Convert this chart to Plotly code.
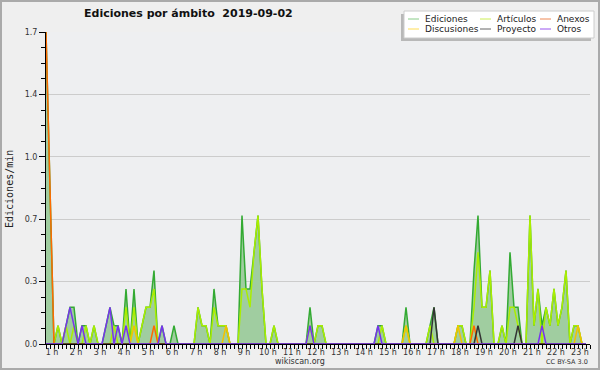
import plotly.graph_objects as go

# ---------------- data (10-minute bins, edits per minute) ----------------
bin_start_hour = 0.75
bin_hours = 1 / 6

ediciones = [
    1.7, 0.8, 0, 0.1, 0, 0.1, 0.2, 0.2, 0, 0.1, 0.1, 0,
    0.1, 0, 0, 0.1, 0.2, 0.1, 0.1, 0, 0.3, 0, 0.3, 0,
    0.1, 0.2, 0.2, 0.4, 0, 0.1, 0, 0, 0.1, 0, 0, 0,
    0, 0, 0.2, 0.1, 0.1, 0, 0.3, 0.1, 0.1, 0.1, 0, 0,
    0, 0.7, 0.3, 0.3, 0.5, 0.7, 0.3, 0, 0, 0.1, 0, 0,
    0, 0, 0, 0, 0, 0, 0.2, 0, 0.1, 0.1, 0, 0,
    0, 0, 0, 0, 0, 0, 0, 0, 0, 0, 0, 0.1,
    0.1, 0, 0, 0, 0, 0, 0.2, 0, 0, 0, 0, 0,
    0.1, 0.2, 0, 0, 0, 0, 0, 0.1, 0.1, 0, 0, 0.4,
    0.7, 0.2, 0.2, 0.4, 0, 0, 0.1, 0, 0.5, 0.2, 0.2, 0,
    0, 0.7, 0.1, 0.3, 0.1, 0.2, 0.1, 0.3, 0.1, 0.2, 0.4, 0,
    0.1, 0.1, 0, 0,
]
articulos = [
    0, 0, 0, 0.1, 0, 0.1, 0, 0.1, 0, 0, 0.1, 0,
    0.1, 0, 0, 0, 0, 0.1, 0, 0, 0.2, 0, 0.2, 0,
    0.1, 0.2, 0.2, 0.3, 0, 0, 0, 0, 0, 0, 0, 0,
    0, 0, 0.2, 0.1, 0.1, 0, 0.2, 0.1, 0.1, 0.1, 0, 0,
    0, 0.3, 0.3, 0.2, 0.5, 0.7, 0.3, 0, 0, 0.1, 0, 0,
    0, 0, 0, 0, 0, 0, 0.1, 0, 0.1, 0.1, 0, 0,
    0, 0, 0, 0, 0, 0, 0, 0, 0, 0, 0, 0,
    0.1, 0, 0, 0, 0, 0, 0.1, 0, 0, 0, 0, 0,
    0.1, 0, 0, 0, 0, 0, 0, 0.1, 0.1, 0, 0, 0.2,
    0.5, 0.2, 0.2, 0.4, 0, 0, 0.1, 0, 0.2, 0.2, 0.1, 0,
    0, 0.7, 0.1, 0.3, 0, 0.2, 0.1, 0.3, 0.1, 0.2, 0.4, 0,
    0.1, 0.1, 0, 0,
]
anexos = [
    1.7, 0.8, 0, 0, 0, 0, 0, 0, 0, 0, 0, 0,
    0, 0, 0, 0, 0, 0, 0, 0, 0, 0, 0, 0,
    0, 0, 0, 0.1, 0, 0, 0, 0, 0, 0, 0, 0,
    0, 0, 0, 0, 0, 0, 0, 0, 0, 0, 0, 0,
    0, 0, 0, 0, 0, 0, 0, 0, 0, 0, 0, 0,
    0, 0, 0, 0, 0, 0, 0, 0, 0, 0, 0, 0,
    0, 0, 0, 0, 0, 0, 0, 0, 0, 0, 0, 0,
    0, 0, 0, 0, 0, 0, 0, 0, 0, 0, 0, 0,
    0, 0, 0, 0, 0, 0, 0, 0, 0, 0, 0, 0.1,
    0, 0, 0, 0, 0, 0, 0, 0, 0, 0, 0, 0,
    0, 0, 0, 0, 0, 0, 0, 0, 0, 0, 0, 0,
    0, 0, 0, 0,
]
discusiones = [
    0, 0, 0, 0, 0, 0, 0, 0, 0, 0, 0, 0,
    0, 0, 0, 0, 0, 0, 0, 0, 0, 0, 0.1, 0,
    0, 0, 0, 0, 0, 0, 0, 0, 0, 0, 0, 0,
    0, 0, 0, 0, 0, 0, 0, 0, 0, 0.1, 0, 0,
    0, 0, 0, 0, 0, 0, 0, 0, 0, 0, 0, 0,
    0, 0, 0, 0, 0, 0, 0, 0, 0, 0, 0, 0,
    0, 0, 0, 0, 0, 0, 0, 0, 0, 0, 0, 0,
    0, 0, 0, 0, 0, 0, 0.1, 0, 0, 0, 0, 0,
    0, 0, 0, 0, 0, 0, 0, 0.1, 0, 0, 0, 0,
    0, 0, 0, 0, 0, 0, 0, 0, 0, 0, 0, 0,
    0, 0, 0, 0, 0, 0, 0, 0, 0, 0, 0, 0,
    0, 0.1, 0, 0,
]
proyecto = [
    0, 0, 0, 0, 0, 0, 0, 0, 0, 0, 0, 0,
    0, 0, 0, 0, 0, 0, 0, 0, 0, 0, 0, 0,
    0, 0, 0, 0, 0, 0, 0, 0, 0, 0, 0, 0,
    0, 0, 0, 0, 0, 0, 0, 0, 0, 0, 0, 0,
    0, 0, 0, 0, 0, 0, 0, 0, 0, 0, 0, 0,
    0, 0, 0, 0, 0, 0, 0, 0, 0, 0, 0, 0,
    0, 0, 0, 0, 0, 0, 0, 0, 0, 0, 0, 0,
    0, 0, 0, 0, 0, 0, 0, 0, 0, 0, 0, 0,
    0, 0.2, 0, 0, 0, 0, 0, 0, 0, 0, 0, 0,
    0.1, 0, 0, 0, 0, 0, 0, 0, 0, 0, 0.1, 0,
    0, 0, 0, 0, 0, 0, 0, 0, 0, 0, 0, 0,
    0, 0, 0, 0,
]
otros = [
    0, 0, 0, 0, 0, 0.1, 0.2, 0.1, 0, 0.1, 0, 0,
    0, 0, 0, 0.1, 0.2, 0, 0.1, 0, 0.1, 0, 0, 0,
    0, 0, 0, 0, 0, 0.1, 0, 0, 0, 0, 0, 0,
    0, 0, 0, 0, 0, 0, 0, 0, 0, 0, 0, 0,
    0, 0, 0, 0, 0, 0, 0, 0, 0, 0, 0, 0,
    0, 0, 0, 0, 0, 0, 0.1, 0, 0, 0, 0, 0,
    0, 0, 0, 0, 0, 0, 0, 0, 0, 0, 0, 0.1,
    0, 0, 0, 0, 0, 0, 0, 0, 0, 0, 0, 0,
    0, 0, 0, 0, 0, 0, 0, 0, 0, 0, 0, 0,
    0, 0, 0, 0, 0, 0, 0, 0, 0, 0, 0, 0,
    0, 0, 0, 0, 0.1, 0, 0, 0, 0, 0, 0, 0,
    0, 0, 0, 0,
]

hour_ticks = list(range(1, 24))
hour_labels = [f"{h} h" for h in hour_ticks]
y_ticks = [0, 0.34, 0.68, 1.02, 1.36, 1.7]
y_labels = ["0.0", "0.3", "0.7", "1.0", "1.4", "1.7"]

series_names = ["Ediciones", "Artículos", "Anexos", "Discusiones", "Proyecto", "Otros"]
series_colors = ["#33aa33", "#aaee00", "#ff6a00", "#f2c200", "#333333", "#7733ee"]
legend_colors = ["#88cc88", "#ccee55", "#ee8855", "#ffdd55", "#666666", "#9955ee"]

# ---------------- figure ----------------
W, H = 600, 370
ML, MR, MT, MB = 46, 10, 32, 26
PW, PH = W - ML - MR, H - MT - MB

x = [bin_start_hour + i * bin_hours for i in range(len(ediciones))]
x_end = bin_start_hour + PW / 24.0

fig = go.Figure()
fig.add_trace(go.Scatter(x=x, y=ediciones, mode="lines", name=series_names[0],
                         line=dict(color=series_colors[0], width=1.5),
                         fill="tozeroy", fillcolor="#a0cda0"))
draw_order = [(1, articulos), (3, discusiones), (2, anexos), (4, proyecto), (5, otros)]
for idx, vals in draw_order:
    fig.add_trace(go.Scatter(x=x, y=vals, mode="lines", name=series_names[idx],
                             line=dict(color=series_colors[idx], width=1.5)))


def px(xp):
    return (xp - ML) / PW


def py(yp):
    return (MT + PH - yp) / PH


shapes = []
annotations = []

# figure border
shapes.append(dict(type="rect", xref="paper", yref="paper",
                   x0=px(1), x1=px(599), y0=py(1), y1=py(369),
                   line=dict(color="#aaaaaa", width=2), layer="above"))

# legend box with shadow
shapes.append(dict(type="rect", xref="paper", yref="paper",
                   x0=px(401), x1=px(591), y0=py(14), y1=py(41),
                   line=dict(width=0), fillcolor="#b8b8b8", layer="above"))
shapes.append(dict(type="rect", xref="paper", yref="paper",
                   x0=px(404), x1=px(594), y0=py(11), y1=py(38),
                   line=dict(color="#cccccc", width=1), fillcolor="#ffffff", layer="above"))

col_x = [408, 480, 540]
row_y = [19, 29]
for k, name in enumerate(series_names):
    cx = col_x[k % 3]
    ry = row_y[k // 3]
    shapes.append(dict(type="line", xref="paper", yref="paper",
                       x0=px(cx), x1=px(cx + 11), y0=py(ry), y1=py(ry),
                       line=dict(color=legend_colors[k], width=1), layer="above"))
    annotations.append(dict(xref="paper", yref="paper", x=px(cx + 15), y=py(ry),
                            text=name, showarrow=False, xanchor="left", yanchor="middle",
                            font=dict(family="DejaVu Sans", size=9, color="#222222")))

# title
annotations.append(dict(xref="paper", yref="paper", x=px(188), y=py(13),
                        text="<b>Ediciones por ámbito\u00a0 2019-09-02</b>",
                        showarrow=False, xanchor="center", yanchor="middle",
                        font=dict(family="DejaVu Sans", size=11, color="#111111")))
# footer
annotations.append(dict(xref="paper", yref="paper", x=px(300), y=py(361),
                        text="wikiscan.org", showarrow=False, xanchor="center", yanchor="middle",
                        font=dict(family="DejaVu Sans", size=8, color="#333333")))
annotations.append(dict(xref="paper", yref="paper", x=px(590), y=py(362),
                        text="CC BY-SA 3.0", showarrow=False, xanchor="right", yanchor="middle",
                        font=dict(family="DejaVu Sans", size=6.5, color="#333333")))
# y axis title
annotations.append(dict(xref="paper", yref="paper", x=px(9), y=py(189),
                        text="Ediciones/min", showarrow=False, textangle=-90,
                        xanchor="center", yanchor="middle",
                        font=dict(family="DejaVu Sans Mono", size=10, color="#222222")))

fig.update_layout(
    width=W, height=H,
    margin=dict(l=ML, r=MR, t=MT, b=MB, pad=0),
    paper_bgcolor="#efefef",
    plot_bgcolor="#eeeff1",
    showlegend=False,
    hovermode=False,
    shapes=shapes,
    annotations=annotations,
)
fig.update_xaxes(
    range=[bin_start_hour, x_end],
    tickmode="array", tickvals=hour_ticks, ticktext=hour_labels,
    ticks="", showgrid=False, zeroline=False,
    showline=True, linecolor="#000000", linewidth=1,
    tickfont=dict(family="DejaVu Sans", size=8, color="#333333"),
    minor=dict(tick0=bin_start_hour, dtick=bin_hours, ticks="outside",
               ticklen=4, tickcolor="#000000", showgrid=False),
)
fig.update_yaxes(
    range=[0, 1.7],
    tickmode="array", tickvals=y_ticks, ticktext=y_labels,
    ticks="outside", ticklen=6, tickcolor="#000000",
    showgrid=True, gridcolor="#cccccc", gridwidth=1, zeroline=False,
    showline=True, linecolor="#000000", linewidth=1,
    tickfont=dict(family="DejaVu Sans", size=8, color="#333333"),
    minor=dict(dtick=0.085, tick0=0, ticks="outside", ticklen=4,
               tickcolor="#000000", showgrid=False),
)

fig.write_html("out.html", config={"displayModeBar": False, "staticPlot": True},
               post_script="document.body.style.margin='0';")
